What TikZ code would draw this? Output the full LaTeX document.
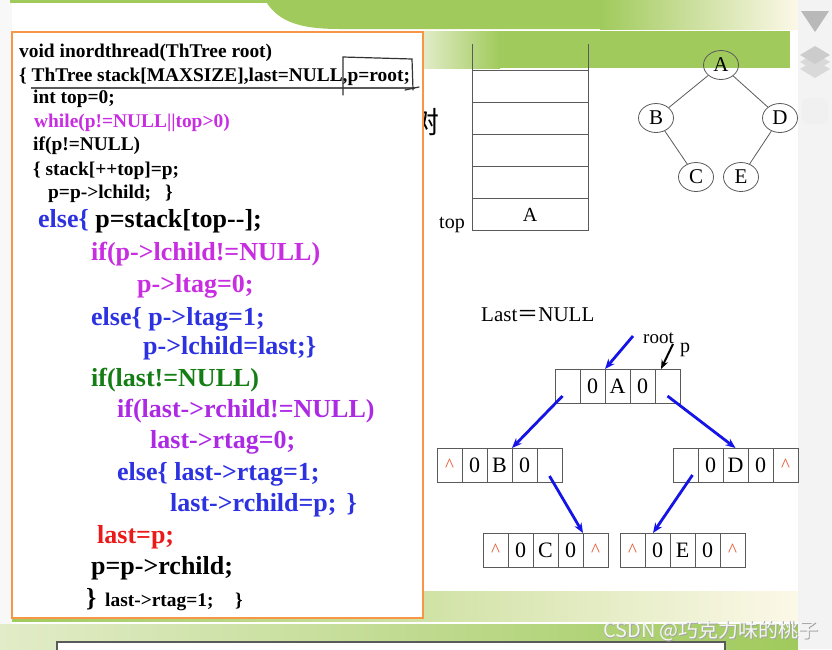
\documentclass[tikz,border=0pt]{standalone}
\usepackage{fontspec}
\setmainfont{Liberation Serif}
\newfontfamily\cjk{Noto Sans CJK SC}
\usepackage{tikz}
\usetikzlibrary{shapes.geometric,arrows.meta,positioning}
\definecolor{boxOrange}{RGB}{247,150,70}
\definecolor{bandGreen}{RGB}{160,202,92}
\definecolor{bandPale}{RGB}{226,236,200}
\definecolor{bandCream}{RGB}{252,248,232}
\definecolor{stripGray}{RGB}{243,243,243}
\definecolor{lineGray}{RGB}{90,90,90}
\definecolor{codeMagenta}{RGB}{200,45,225}
\definecolor{codeViolet}{RGB}{172,42,228}
\definecolor{codeBlue}{RGB}{45,50,225}
\definecolor{codeGreen}{RGB}{20,125,20}
\definecolor{codeRed}{RGB}{235,25,25}
\definecolor{ptrBlue}{RGB}{20,20,230}
\definecolor{caretRed}{RGB}{232,85,45}
\newcommand{\car}{{\color{caretRed}\fontsize{19}{19}\selectfont\textasciicircum}}

\begin{document}
\begin{tikzpicture}[x=1pt,y=-1pt,
  code/.style={anchor=base west, inner sep=0pt, font=\fontsize{19.4}{20}\selectfont\bfseries},
  bigcode/.style={anchor=base west, inner sep=0pt, font=\fontsize{26}{28}\selectfont\bfseries},
  cell/.style={draw=lineGray, line width=0.9pt, minimum width=25pt, minimum height=34pt,
               inner sep=0pt, outer sep=0pt, font=\fontsize{22}{22}\selectfont},
  treenode/.style={ellipse, draw=lineGray, line width=0.8pt, minimum width=35pt, minimum height=29pt,
                   inner sep=0pt, font=\fontsize{21}{21}\selectfont},
  lbl/.style={anchor=base west, inner sep=0pt, font=\fontsize{20}{20}\selectfont},
  ptr/.style={-{Stealth[length=10pt,width=8pt]}, line width=2.8pt, draw=ptrBlue},
]
\useasboundingbox (0,0) rectangle (832,649);

% slide background
\fill[white] (0,0) rectangle (832,649);
\fill[stripGray!60] (0,0) rectangle (12,649);
\fill[bandGreen] (10,0) rectangle (798,3);
\fill[bandGreen] (265,0) .. controls (278,22) and (300,29) .. (340,29) -- (600,29) -- (600,0) -- cycle;
\shade[left color=bandGreen, right color=bandCream] (600,0) rectangle (798,29);
\shade[left color=bandPale, right color=bandGreen] (423,31) rectangle (500,68);
\fill[bandGreen] (500,31) rectangle (790,68);
\shade[left color=bandGreen, right color=bandCream] (12,591) rectangle (798,621);
\shade[left color=bandPale, right color=bandGreen] (0,624) rectangle (798,649);
\filldraw[fill=white, draw=lineGray, line width=1.2pt] (57,642) rectangle (725,655);

% side toolbar
\fill[stripGray] (798,0) rectangle (832,649);
\fill[gray!55] (801,11) -- (829,11) -- (815,32) -- cycle;
\fill[gray!30] (815,60) -- (830,69) -- (815,78) -- (800,69) -- cycle;
\fill[gray!30] (815,53) -- (830,62) -- (815,71) -- (800,62) -- cycle;
\fill[gray!40] (815,46) -- (830,55) -- (815,64) -- (800,55) -- cycle;
\fill[gray!12, rounded corners=5pt] (802,98) rectangle (828,124);

% title character behind the code box
\node[font=\cjk\fontsize{30}{30}\selectfont, inner sep=0pt] (shu) at (424,122) {树};

% code box
\draw[fill=white, draw=boxOrange, line width=2.5pt] (12,32) rectangle (423,618);

\node[code] (l1) at (19,57) {void inordthread(ThTree root)};
\node[code] (l2) at (19,81) {\{ ThTree stack[MAXSIZE],last=NULL,p=root;};
\node[code] (l3) at (33,103) {int top=0;};
\node[code, text=codeMagenta] (l4) at (34,127) {while(p!=NULL||top>0)};
\node[code] (l5) at (33,150) {if(p!=NULL)};
\node[code] (l6) at (33,175) {\{ stack[++top]=p;};
\node[code] (l7) at (48,198) {p=p->lchild;\hspace{14pt}\}};
\node[bigcode] (l8) at (38,227) {\textcolor{codeBlue}{else\{} p=stack[top{-}{-}];};
\node[bigcode, text=codeMagenta] (l9) at (91,260) {if(p->lchild!=NULL)};
\node[bigcode, text=codeMagenta] (l10) at (137,292) {p->ltag=0;};
\node[bigcode, text=codeBlue] (l11) at (91,325) {else\{ p->ltag=1;};
\node[bigcode, text=codeBlue] (l12) at (143,354) {p->lchild=last;\}};
\node[bigcode, text=codeGreen] (l13) at (91,386) {if(last!=NULL)};
\node[bigcode, text=codeViolet] (l14) at (117,417) {if(last->rchild!=NULL)};
\node[bigcode, text=codeViolet] (l15) at (150,448) {last->rtag=0;};
\node[bigcode, text=codeBlue] (l16) at (117,480) {else\{ last->rtag=1;};
\node[bigcode, text=codeBlue] (l17) at (170,511) {last->rchild=p;\hspace{10pt}\}};
\node[bigcode, text=codeRed] (l18) at (97,543) {last=p;};
\node[bigcode] (l19) at (91,574) {p=p->rchild;};
\node[bigcode] (l20) at (86,606) {\}};
\node[code] (l20b) at (105,606) {last->rtag=1;};
\node[code] (l20c) at (235,606) {\}};

% pen marks on line 2
\draw[lineGray, line width=1.1pt] (31,88) -- (415,88);
\draw[black!80, line width=1.2pt, line cap=round] (343,95) -- (343,57) -- (412,59) -- (413,90)
  (405,90) -- (419,87);

% stack
\draw[lineGray, line width=1pt] (472,44) -- (472,230) -- (588,230) -- (588,44);
\foreach \y in {70,102,134,166,198}
  \draw[lineGray, line width=1pt] (472,\y) -- (588,\y);
\node[font=\fontsize{20}{20}\selectfont, inner sep=0pt] (stA) at (530,215) {A};
\node[lbl] (top) at (439,228) {top};

% binary tree
\node[treenode] (A) at (721,65) {A};
\node[treenode] (B) at (656,118) {B};
\node[treenode] (D) at (780,118) {D};
\node[treenode] (C) at (696,177) {C};
\node[treenode] (E) at (741,177) {E};
\draw[lineGray, line width=0.8pt] (A) -- (B) (A) -- (D) (B) -- (C) (D) -- (E);

% threaded nodes
\node[lbl, font=\fontsize{21}{21}\selectfont] (last) at (481,321) {Last{\cjk ＝}NULL};
\foreach \nm/\x/\y/\ca/\cb/\cc/\cd/\ce in {nA/555/386/{}/0/A/0/{},
    nB/437/465/\car/0/B/0/{}, nD/673/465/{}/0/D/0/\car,
    nC/483/550/\car/0/C/0/\car, nE/620/550/\car/0/E/0/\car}
  \foreach \t [count=\i] in {\ca,\cb,\cc,\cd,\ce}
    \node[cell] (\nm-\i) at (\x+\i*25-12.5,\y) {\t};

\node[lbl, font=\fontsize{19}{19}\selectfont] (rootLbl) at (643,343) {root};
\node[lbl, font=\fontsize{20}{20}\selectfont] (pLbl) at (680,352) {p};
\coordinate (rootTail) at (633,336);
\coordinate (pTail) at (673,344);
\draw[ptr] (rootTail) -- (nA-3.north west);
\draw[-{Stealth[length=9pt,width=7pt]}, line width=2pt] (pTail) -- ([xshift=6pt]nA-5.north west);
\draw[ptr] ([xshift=-5pt,yshift=-10pt]nA-1.center) -- (nB-4.north west);
\draw[ptr] ([yshift=-10pt]nA-5.center) -- (nD-3.north);
\draw[ptr] ([yshift=-11pt]nB-5.center) -- (nC-5.north west);
\draw[ptr] ([xshift=7pt,yshift=-10pt]nD-1.center) -- ([xshift=8pt]nE-2.north west);

% watermark
\node[font=\cjk\fontsize{20}{20}\selectfont, text=gray!70, inner sep=0pt] at (711.8,631.8) {CSDN @巧克力味的桃子};
\node[font=\cjk\fontsize{20}{20}\selectfont, text=white!92!gray, inner sep=0pt] (mark) at (711,631) {CSDN @巧克力味的桃子};
\end{tikzpicture}
\end{document}
